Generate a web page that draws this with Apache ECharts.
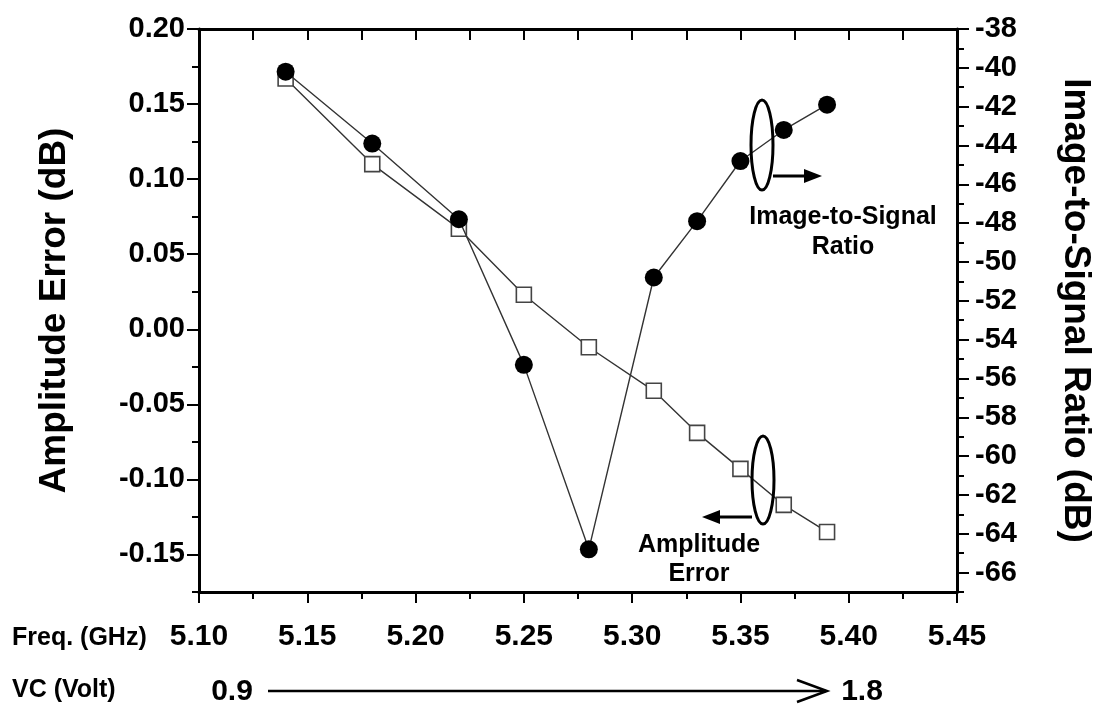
<!DOCTYPE html>
<html>
<head>
<meta charset="utf-8">
<title>Amplitude Error / Image-to-Signal Ratio</title>
<script src="https://cdn.jsdelivr.net/npm/echarts@6.0.0/dist/echarts.min.js"></script>
<style>
  html, body { margin: 0; padding: 0; background: #fff; }
  .main { width: 1106px; height: 708px; }
</style>
</head>
<body>
<div class="main"></div>
<script>
// data
var freq = [5.14, 5.18, 5.22, 5.25, 5.28, 5.31, 5.33, 5.35, 5.37, 5.39];
var ampError = [0.167, 0.110, 0.067, 0.023, -0.012, -0.041, -0.069, -0.093, -0.117, -0.135];
var isr = [-40.2, -43.9, -47.8, -55.3, -64.8, -50.8, -47.9, -44.8, -43.2, -41.9];

// tick labels
var leftTicks = [-0.15, -0.10, -0.05, 0.00, 0.05, 0.10, 0.15, 0.20];
var rightTicks = [-66, -64, -62, -60, -58, -56, -54, -52, -50, -48, -46, -44, -42, -40, -38];

function pairs(xs, ys){
  var out = [];
  for (var i = 0; i < xs.length; i++) out.push([xs[i], ys[i]]);
  return out;
}

var FONT = '"Liberation Sans", Arial, sans-serif';
var axisLine = { show: true, onZero: false, lineStyle: { color: '#000', width: 3 } };
var tickStyle = { color: '#000', width: 2 };

var myChart = echarts.init(document.querySelector('.main'));

var option = {
  animation: false,
  backgroundColor: '#fff',
  grid: { left: 199, right: 149, top: 29, bottom: 116 },
  xAxis: [{
    type: 'value', position: 'bottom', min: 5.10, max: 5.45, interval: 0.05,
    axisLine: axisLine,
    axisTick: { show: true, length: 11, lineStyle: tickStyle },
    minorTick: { show: true, splitNumber: 2, length: 7, lineStyle: tickStyle },
    axisLabel: {
      margin: 30, color: '#000', fontFamily: FONT, fontWeight: 'bold', fontSize: 30,
      formatter: function(v){ return v.toFixed(2); }
    },
    splitLine: { show: false }
  }, {
    // mirrored top frame
    type: 'value', position: 'top', min: 5.10, max: 5.45, interval: 0.025,
    axisLine: axisLine,
    axisTick: { show: true, inside: true, length: 11, lineStyle: tickStyle },
    axisLabel: { show: false },
    splitLine: { show: false }
  }],
  yAxis: [{
    type: 'value', position: 'left', min: -0.175, max: 0.20, interval: 0.025,
    name: 'Amplitude Error (dB)', nameLocation: 'middle', nameRotate: 90, nameGap: 126,
    nameTextStyle: { color: '#000', fontFamily: FONT, fontWeight: 'bold', fontSize: 37 },
    axisLine: axisLine,
    axisTick: { show: true, length: 7, lineStyle: tickStyle },
    axisLabel: {
      customValues: leftTicks, margin: 14, color: '#000', fontFamily: FONT,
      fontWeight: 'bold', fontSize: 29,
      formatter: function(v){ return v.toFixed(2); }
    },
    splitLine: { show: false }
  }, {
    type: 'value', position: 'right', min: -67, max: -38, interval: 1,
    name: 'Image-to-Signal Ratio (dB)', nameLocation: 'middle', nameRotate: -90, nameGap: 100,
    nameTextStyle: { color: '#000', fontFamily: FONT, fontWeight: 'bold', fontSize: 37 },
    axisLine: axisLine,
    axisTick: { show: true, length: 7, lineStyle: tickStyle },
    axisLabel: {
      customValues: rightTicks, margin: 18, color: '#000', fontFamily: FONT,
      fontWeight: 'bold', fontSize: 29
    },
    splitLine: { show: false }
  }, {
    // long major ticks, left
    type: 'value', position: 'left', min: -0.175, max: 0.20,
    axisLine: { show: false },
    axisTick: { show: true, customValues: leftTicks, length: 12, lineStyle: tickStyle },
    axisLabel: { show: false },
    splitLine: { show: false }
  }, {
    // long major ticks, right
    type: 'value', position: 'right', min: -67, max: -38,
    axisLine: { show: false },
    axisTick: { show: true, customValues: rightTicks, length: 12, lineStyle: tickStyle },
    axisLabel: { show: false },
    splitLine: { show: false }
  }],
  series: [{
    name: 'Amplitude Error',
    type: 'line',
    xAxisIndex: 0, yAxisIndex: 0,
    data: pairs(freq, ampError),
    symbol: 'rect', symbolSize: 15,
    itemStyle: { color: '#fff', borderColor: '#444', borderWidth: 1.6 },
    lineStyle: { color: '#333', width: 1.4 },
    z: 3
  }, {
    name: 'Image-to-Signal Ratio',
    type: 'line',
    xAxisIndex: 0, yAxisIndex: 1,
    data: pairs(freq, isr),
    symbol: 'circle', symbolSize: 18,
    itemStyle: { color: '#000', borderColor: '#000', borderWidth: 0 },
    lineStyle: { color: '#333', width: 1.4 },
    z: 4
  }],
  graphic: [
    // bottom row captions
    { type: 'text', style: { text: 'Freq. (GHz)', x: 12, y: 638, textVerticalAlign: 'middle', font: 'bold 25px ' + FONT, fill: '#000' } },
    { type: 'text', style: { text: 'VC (Volt)', x: 12, y: 690, textVerticalAlign: 'middle', font: 'bold 25px ' + FONT, fill: '#000' } },
    { type: 'text', style: { text: '0.9', x: 232, y: 692, textAlign: 'center', textVerticalAlign: 'middle', font: 'bold 30px ' + FONT, fill: '#000' } },
    { type: 'text', style: { text: '1.8', x: 862, y: 692, textAlign: 'center', textVerticalAlign: 'middle', font: 'bold 30px ' + FONT, fill: '#000' } },
    { type: 'line', shape: { x1: 268, y1: 691, x2: 826, y2: 691 }, style: { stroke: '#000', lineWidth: 2.5 } },
    { type: 'polyline', shape: { points: [[797, 680], [827, 691], [797, 702]] }, style: { stroke: '#000', lineWidth: 2.5, fill: null } },

    // image-to-signal annotation
    { type: 'ellipse', shape: { cx: 762, cy: 145, rx: 11, ry: 45 }, style: { stroke: '#000', lineWidth: 3, fill: null }, z: 10 },
    { type: 'line', shape: { x1: 773, y1: 176, x2: 808, y2: 176 }, style: { stroke: '#000', lineWidth: 3 }, z: 10 },
    { type: 'polygon', shape: { points: [[804, 169], [822, 176], [804, 183]] }, style: { fill: '#000' }, z: 10 },
    { type: 'text', style: { text: 'Image-to-Signal\nRatio', x: 843, y: 202, textAlign: 'center', lineHeight: 30, font: 'bold 25px ' + FONT, fill: '#000' }, z: 10 },

    // amplitude error annotation
    { type: 'ellipse', shape: { cx: 763, cy: 480, rx: 11, ry: 44 }, style: { stroke: '#000', lineWidth: 3, fill: null }, z: 10 },
    { type: 'line', shape: { x1: 752, y1: 517, x2: 716, y2: 517 }, style: { stroke: '#000', lineWidth: 3 }, z: 10 },
    { type: 'polygon', shape: { points: [[720, 510], [702, 517], [720, 524]] }, style: { fill: '#000' }, z: 10 },
    { type: 'text', style: { text: 'Amplitude\nError', x: 699, y: 531, textAlign: 'center', lineHeight: 29, font: 'bold 25px ' + FONT, fill: '#000' }, z: 10 }
  ]
};

myChart.setOption(option);
</script>
</body>
</html>
